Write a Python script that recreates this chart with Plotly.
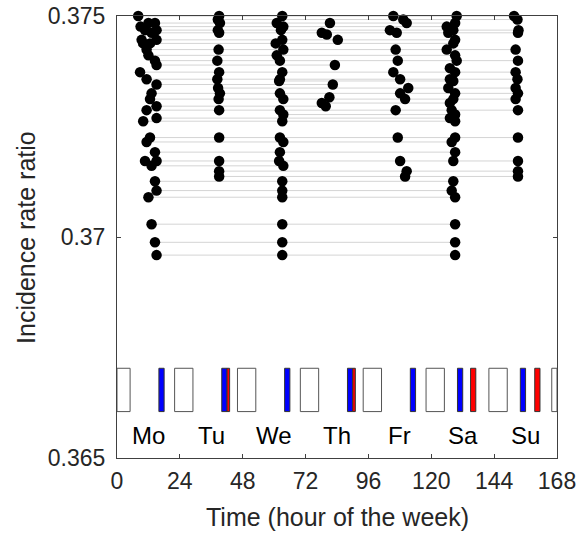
import plotly.graph_objects as go

# ---- data ----
mo_hour = [8.1, 9.0, 12.0, 14.5, 10.7, 15.1, 13.2, 9.4, 15.1, 10.0, 12.6, 11.3, 12.0, 14.5, 15.1, 8.8, 11.3,
           15.1, 13.2, 12.6, 15.1, 11.3, 15.1, 10.0, 12.6, 11.3, 14.5, 10.7, 15.1, 13.2, 14.5, 15.1, 12.0,
           13.2, 14.5, 15.1]
mo_irr = [0.37500, 0.37476, 0.37484, 0.37484, 0.37468, 0.37468, 0.37462, 0.37446, 0.37446, 0.37438, 0.37438,
          0.37424, 0.37411, 0.37399, 0.37389, 0.37373, 0.37357, 0.37345, 0.37325, 0.37312, 0.37296, 0.37287,
          0.37269, 0.37262, 0.37225, 0.37215, 0.37192, 0.37172, 0.37172, 0.37161, 0.37126, 0.37105, 0.37090,
          0.37029, 0.36988, 0.36959]

tu_hour = [39.0, 38.5, 39.3, 38.5, 39.0, 38.8, 38.3, 39.0, 38.3, 38.6, 39.3, 38.8, 39.0, 39.0, 39.0, 39.0, 39.0]
tu_irr = [0.37500, 0.37492, 0.37484, 0.37468, 0.37462, 0.37424, 0.37399, 0.37373, 0.37357, 0.37337, 0.37325,
          0.37312, 0.37287, 0.37225, 0.37172, 0.37149, 0.37137]

we_hour = [63.1, 61.0, 63.5, 62.6, 63.1, 60.6, 63.5, 61.0, 62.2, 63.1, 62.2, 61.9, 62.2, 63.5, 62.2, 63.5, 63.1,
           62.2, 63.5, 62.2, 61.9, 63.5, 63.1, 63.1, 63.1, 63.1, 63.1, 63.1]
we_irr = [0.37500, 0.37484, 0.37476, 0.37468, 0.37446, 0.37438, 0.37424, 0.37411, 0.37399, 0.37373, 0.37357,
          0.37353, 0.37325, 0.37312, 0.37287, 0.37277, 0.37262, 0.37225, 0.37215, 0.37192, 0.37172, 0.37161,
          0.37126, 0.37105, 0.37090, 0.37029, 0.36988, 0.36959]

th_hour = [81.3, 78.2, 80.1, 84.3, 83.2, 82.4, 81.1, 78.2, 79.7]
th_irr = [0.37484, 0.37462, 0.37458, 0.37446, 0.37389, 0.37345, 0.37316, 0.37303, 0.37296]

fr_hour = [105.5, 109.3, 110.6, 104.2, 106.8, 106.4, 107.2, 105.5, 108.1, 111.2, 108.1, 110.0, 106.4, 107.2,
           108.1, 110.6, 110.0]
fr_irr = [0.37500, 0.37492, 0.37484, 0.37468, 0.37462, 0.37424, 0.37399, 0.37373, 0.37357, 0.37337, 0.37325,
          0.37312, 0.37287, 0.37225, 0.37172, 0.37149, 0.37137]

sa_hour = [129.7, 129.1, 125.9, 128.4, 126.5, 129.1, 128.4, 125.9, 129.1, 129.7, 127.1, 129.1, 127.1, 128.4,
           126.5, 129.1, 128.4, 127.1, 127.8, 129.1, 127.1, 129.1, 129.1, 127.8, 129.1, 128.4, 128.4, 127.8,
           129.1, 129.1, 129.1, 129.1]
sa_irr = [0.37500, 0.37484, 0.37476, 0.37468, 0.37462, 0.37446, 0.37438, 0.37424, 0.37411, 0.37399, 0.37382,
          0.37373, 0.37357, 0.37353, 0.37337, 0.37325, 0.37312, 0.37303, 0.37287, 0.37277, 0.37269, 0.37262,
          0.37225, 0.37215, 0.37192, 0.37172, 0.37126, 0.37105, 0.37090, 0.37029, 0.36988, 0.36959]

su_hour = [151.6, 152.9, 153.3, 153.1, 152.2, 153.1, 152.2, 152.9, 152.2, 153.1, 152.2, 153.1, 153.1, 153.1,
           153.1, 153.1]
su_irr = [0.37500, 0.37492, 0.37468, 0.37462, 0.37424, 0.37399, 0.37373, 0.37357, 0.37337, 0.37325, 0.37312,
          0.37287, 0.37225, 0.37172, 0.37149, 0.37137]

day_labels = ["Mo", "Tu", "We", "Th", "Fr", "Sa", "Su"]
day_label_hour = [12, 36, 60, 84, 108, 132, 156]
night_start = [0, 22, 46, 70, 94, 118, 142, 166]
night_end = [5, 29, 53, 77, 101, 125, 149, 168]
blue_start = [16, 40, 64, 88, 112, 130, 154]
blue_end = [18, 42, 66, 90, 114, 132, 156]
red_start = [42, 90, 135, 159.5]
red_end = [43, 91, 137, 161.5]
band_low, band_high = 0.36605, 0.36703
label_irr = 0.3655
x_ticks = [0, 24, 48, 72, 96, 120, 144, 168]
y_ticks = [0.365, 0.37, 0.375]

# ---- build ----
all_h = mo_hour + tu_hour + we_hour + th_hour + fr_hour + sa_hour + su_hour
all_y = mo_irr + tu_irr + we_irr + th_irr + fr_irr + sa_irr + su_irr

rows = {}
for h, y in zip(all_h, all_y):
    rows.setdefault(y, []).append(h)
lx, ly = [], []
for y, hs in rows.items():
    if len(hs) > 1:
        lx += [min(hs), max(hs), None]
        ly += [y, y, None]

FONT = "Liberation Sans, Arial, Helvetica, sans-serif"
TXT = "#262626"

fig = go.Figure()
fig.add_trace(go.Scatter(x=lx, y=ly, mode="lines", line=dict(color="#d4d4d4", width=1),
                         hoverinfo="skip", showlegend=False))
fig.add_trace(go.Scatter(x=all_h, y=all_y, mode="markers",
                         marker=dict(color="black", size=10.5, line=dict(width=0)),
                         cliponaxis=False, showlegend=False))

shapes = []
for a, b in zip(night_start, night_end):
    shapes.append(dict(type="rect", xref="x", yref="y", x0=a, x1=b, y0=band_low, y1=band_high,
                       fillcolor="white", line=dict(color="#555555", width=1), layer="above"))
for a, b in zip(blue_start, blue_end):
    shapes.append(dict(type="rect", xref="x", yref="y", x0=a, x1=b, y0=band_low, y1=band_high,
                       fillcolor="#0000ff", line=dict(color="#333333", width=1), layer="above"))
for a, b in zip(red_start, red_end):
    shapes.append(dict(type="rect", xref="x", yref="y", x0=a, x1=b, y0=band_low, y1=band_high,
                       fillcolor="#ff0000", line=dict(color="#333333", width=1), layer="above"))

annotations = []
for lab, h in zip(day_labels, day_label_hour):
    annotations.append(dict(x=h, y=label_irr, xref="x", yref="y", text=lab, showarrow=False,
                            font=dict(family=FONT, size=24, color="black"),
                            xanchor="center", yanchor="middle"))
annotations.append(dict(x=-0.207, y=0.5, xref="paper", yref="paper", text="Incidence rate ratio",
                        textangle=-90, showarrow=False, xanchor="center", yanchor="middle",
                        font=dict(family=FONT, size=25, color=TXT)))
annotations.append(dict(x=0.5, y=-0.134, xref="paper", yref="paper", text="Time (hour of the week)",
                        showarrow=False, xanchor="center", yanchor="middle",
                        font=dict(family=FONT, size=25, color=TXT)))

fig.update_layout(
    width=582, height=535,
    margin=dict(l=117, r=25, t=16, b=77, autoexpand=False),
    paper_bgcolor="white", plot_bgcolor="white",
    shapes=shapes, annotations=annotations,
    font=dict(family=FONT, size=23, color=TXT),
)
fig.update_xaxes(range=[0, 168], tickvals=x_ticks, ticktext=[str(t) for t in x_ticks],
                 ticks="inside", ticklen=4, tickcolor="#404040", showgrid=False, zeroline=False,
                 showline=True, linecolor="#404040", linewidth=1, mirror="ticks", automargin=False,
                 ticklabelstandoff=2, tickfont=dict(size=23, family=FONT, color=TXT))
fig.update_yaxes(range=[0.365, 0.375], tickvals=y_ticks, ticktext=["0.365", "0.37", "0.375"],
                 ticks="inside", ticklen=4, tickcolor="#404040", showgrid=False, zeroline=False,
                 showline=True, linecolor="#404040", linewidth=1, mirror="ticks", automargin=False,
                 ticklabelstandoff=6, tickfont=dict(size=23, family=FONT, color=TXT))

fig.write_html("out.html", config={"displayModeBar": False},
               post_script="document.body.style.margin='0';")
